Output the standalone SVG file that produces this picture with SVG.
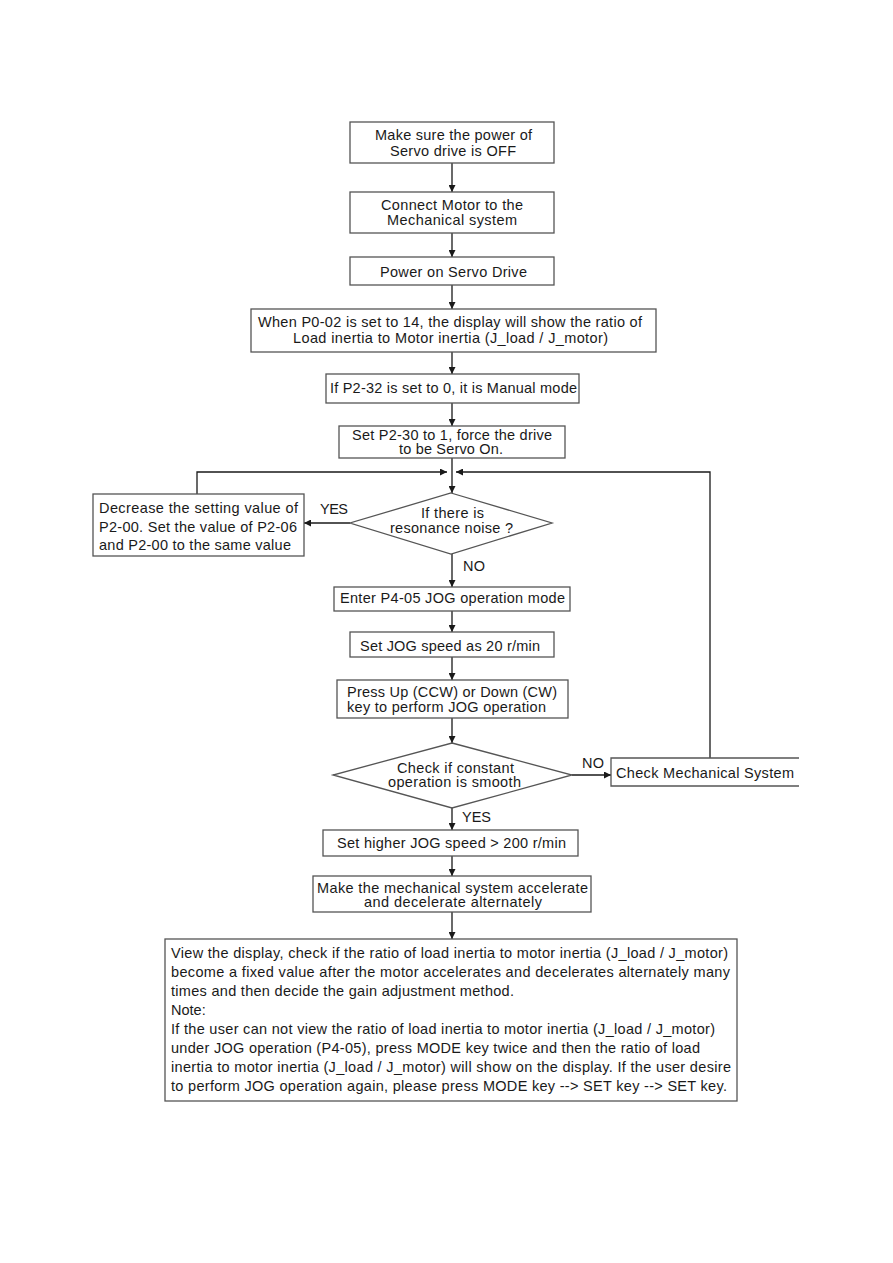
<svg xmlns="http://www.w3.org/2000/svg" width="893" height="1263" viewBox="0 0 893 1263">
<defs>
<marker id="ah" viewBox="0 0 10 10" refX="10" refY="5" markerWidth="7" markerHeight="7" markerUnits="userSpaceOnUse" orient="auto">
<path d="M0,0 L10,5 L0,10 z" fill="#1a1a1a"/>
</marker>
</defs>
<style>
.box{fill:#fff;stroke:#555;stroke-width:1.3}
.t{font-family:"Liberation Sans",Arial,Helvetica,sans-serif;font-size:14.5px;fill:#1a1a1a}
.tc{text-anchor:middle}
.c{fill:none;stroke:#1a1a1a;stroke-width:1.3}
.ca{fill:none;stroke:#1a1a1a;stroke-width:1.3;marker-end:url(#ah)}
</style>
<rect width="893" height="1263" fill="#fff"/>
<g id="connectors">
<line class="ca" x1="452" y1="163" x2="452" y2="192"/>
<line class="ca" x1="452" y1="233" x2="452" y2="257"/>
<line class="ca" x1="452" y1="285" x2="452" y2="309"/>
<line class="ca" x1="452" y1="352" x2="452" y2="374"/>
<line class="ca" x1="452" y1="403" x2="452" y2="426"/>
<line class="ca" x1="452" y1="458" x2="452" y2="493"/>
<polyline class="ca" points="197,494 197,472 447,472"/>
<polyline class="ca" points="710,758 710,472 456,472"/>
<line class="ca" x1="350" y1="523" x2="304" y2="523"/>
<line class="ca" x1="452" y1="554" x2="452" y2="587"/>
<line class="ca" x1="452" y1="611" x2="452" y2="632"/>
<line class="ca" x1="452" y1="657" x2="452" y2="680"/>
<line class="ca" x1="452" y1="718" x2="452" y2="743"/>
<line class="ca" x1="572" y1="775" x2="611" y2="775"/>
<line class="ca" x1="452" y1="808" x2="452" y2="830"/>
<line class="ca" x1="452" y1="856" x2="452" y2="876"/>
<line class="ca" x1="452" y1="912" x2="452" y2="939"/>
<text class="t" x="320" y="514" textLength="28">YES</text>
<text class="t" x="463" y="571" textLength="22">NO</text>
<text class="t" x="582" y="768" textLength="22">NO</text>
<text class="t" x="462" y="822" textLength="29">YES</text>
</g>
<g id="n1">
<rect class="box" x="350" y="122" width="204" height="41"/>
<text class="t" x="375" y="140" textLength="157">Make sure the power of</text>
<text class="t" x="390" y="156" textLength="126">Servo drive is OFF</text>
</g>
<g id="n2">
<rect class="box" x="350" y="192" width="204" height="41"/>
<text class="t" x="381" y="210" textLength="142">Connect Motor to the</text>
<text class="t" x="387" y="225" textLength="130">Mechanical system</text>
</g>
<g id="n3">
<rect class="box" x="350" y="257" width="204" height="28"/>
<text class="t" x="380" y="277" textLength="147">Power on Servo Drive</text>
</g>
<g id="n4">
<rect class="box" x="251" y="309" width="405" height="43"/>
<text class="t" x="258" y="327" textLength="384">When P0-02 is set to 14, the display will show the ratio of</text>
<text class="t" x="293" y="343" textLength="315">Load inertia to Motor inertia (J_load / J_motor)</text>
</g>
<g id="n5">
<rect class="box" x="326" y="374" width="253" height="29"/>
<text class="t" x="330" y="393" textLength="247">If P2-32 is set to 0, it is Manual mode</text>
</g>
<g id="n6">
<rect class="box" x="339" y="426" width="226" height="32"/>
<text class="t" x="352" y="440" textLength="200">Set P2-30 to 1, force the drive</text>
<text class="t" x="399" y="454" textLength="104">to be Servo On.</text>
</g>
<g id="d1">
<polygon class="box" points="451,493 552,523 451,554 350,523"/>
<text class="t" x="421" y="518" textLength="63">If there is</text>
<text class="t" x="390" y="533" textLength="123">resonance noise ?</text>
</g>
<g id="n7">
<rect class="box" x="93" y="494" width="211" height="62"/>
<text class="t" x="99" y="513" textLength="199">Decrease the setting value of</text>
<text class="t" x="99" y="532" textLength="198">P2-00. Set the value of P2-06</text>
<text class="t" x="99" y="550" textLength="192">and P2-00 to the same value</text>
</g>
<g id="n8">
<rect class="box" x="334" y="587" width="236" height="24"/>
<text class="t" x="340" y="603" textLength="225">Enter P4-05 JOG operation mode</text>
</g>
<g id="n9">
<rect class="box" x="350" y="632" width="204" height="25"/>
<text class="t" x="360" y="651" textLength="180">Set JOG speed as 20 r/min</text>
</g>
<g id="n10">
<rect class="box" x="337" y="680" width="231" height="38"/>
<text class="t" x="347" y="697" textLength="210">Press Up (CCW) or Down (CW)</text>
<text class="t" x="347" y="712" textLength="199">key to perform JOG operation</text>
</g>
<g id="d2">
<polygon class="box" points="452,743 572,775 452,808 333,775"/>
<text class="t" x="397" y="773" textLength="117">Check if constant</text>
<text class="t" x="388" y="787" textLength="133">operation is smooth</text>
</g>
<g id="n11">
<path class="box" d="M799,758 H611 V786 H799"/>
<text class="t" x="616" y="778" textLength="178">Check Mechanical System</text>
</g>
<g id="n12">
<rect class="box" x="323" y="830" width="255" height="26"/>
<text class="t" x="337" y="848" textLength="229">Set higher JOG speed &gt; 200 r/min</text>
</g>
<g id="n13">
<rect class="box" x="313" y="876" width="278" height="36"/>
<text class="t" x="317" y="893" textLength="271">Make the mechanical system accelerate</text>
<text class="t" x="364" y="907" textLength="178">and decelerate alternately</text>
</g>
<g id="n14">
<rect class="box" x="165" y="939" width="572" height="162"/>
<text class="t" x="171" y="958" textLength="557">View the display, check if the ratio of load inertia to motor inertia (J_load / J_motor)</text>
<text class="t" x="171" y="977" textLength="559">become a fixed value after the motor accelerates and decelerates alternately many</text>
<text class="t" x="171" y="996" textLength="343">times and then decide the gain adjustment method.</text>
<text class="t" x="171" y="1015">Note:</text>
<text class="t" x="171" y="1034" textLength="544">If the user can not view the ratio of load inertia to motor inertia (J_load / J_motor)</text>
<text class="t" x="171" y="1053" textLength="529">under JOG operation (P4-05), press MODE key twice and then the ratio of load</text>
<text class="t" x="171" y="1072" textLength="560">inertia to motor inertia (J_load / J_motor) will show on the display. If the user desire</text>
<text class="t" x="171" y="1091" textLength="556">to perform JOG operation again, please press MODE key --&gt; SET key --&gt; SET key.</text>
</g>
</svg>
